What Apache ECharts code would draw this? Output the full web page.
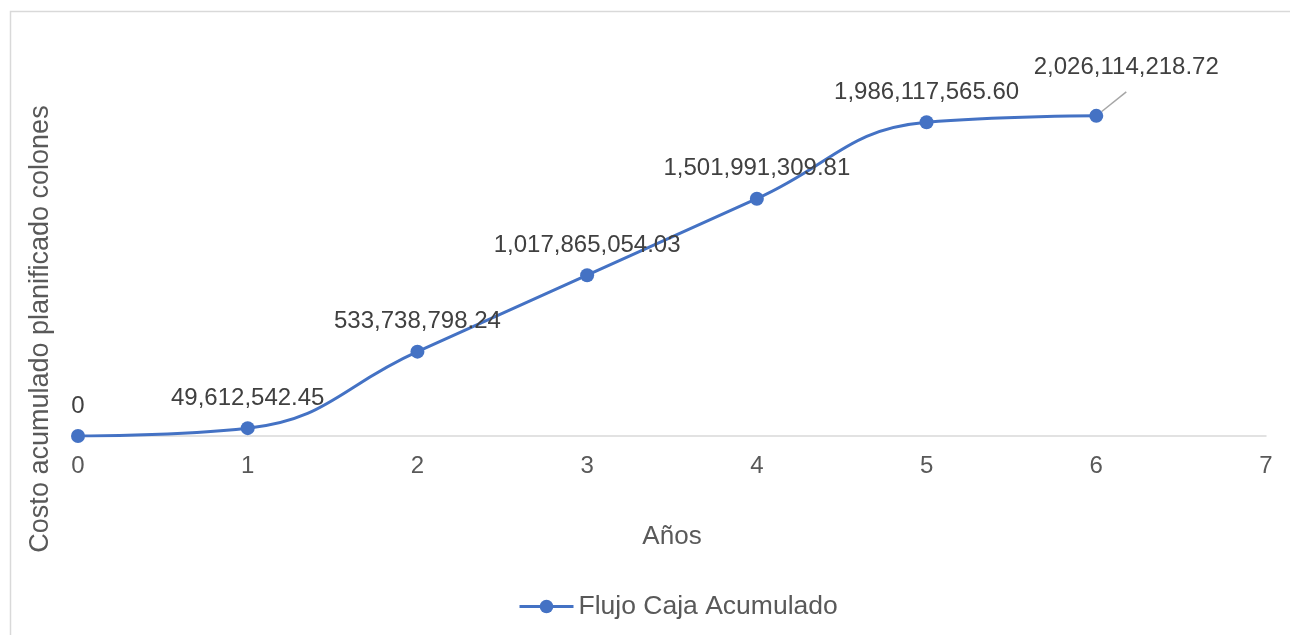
<!DOCTYPE html>
<html>
<head>
<meta charset="utf-8">
<script src="https://cdn.jsdelivr.net/npm/echarts@6/dist/echarts.min.js"></script>
<style>
  html, body { margin: 0; padding: 0; background: #ffffff; }
  #chart { width: 1290px; height: 635px; }
</style>
</head>
<body>
<div id="chart"></div>
<script>
// Años del proyecto y flujo de caja acumulado (colones)
const years = [0, 1, 2, 3, 4, 5, 6];
const cumulativeCost = [0, 49612542.45, 533738798.24, 1017865054.03, 1501991309.81, 1986117565.60, 2026114218.72];
const seriesName = 'Flujo Caja Acumulado';
const xTitle = 'Años';
const yTitle = 'Costo acumulado planificado colones';

const fmt = v => v === 0 ? '0' : v.toLocaleString('en-US', { minimumFractionDigits: 2, maximumFractionDigits: 2 });

const font = "Liberation Sans, Arial, sans-serif";
const lastIdx = cumulativeCost.length - 1;
const blue = '#4472C4';

const points = years.map((x, i) => {
  const item = { value: [x, cumulativeCost[i]] };
  if (i === lastIdx) {
    // último valor desplazado con línea guía
    item.label = { offset: [30, -18] };
    item.labelLine = { show: true, lineStyle: { color: '#a6a6a6', width: 1.5 } };
  }
  return item;
});

const chart = echarts.init(document.getElementById('chart'), null, { renderer: 'canvas' });
chart.setOption({
  animation: false,
  backgroundColor: '#ffffff',
  grid: { left: 78, right: 24, top: 41, bottom: 199 },
  xAxis: {
    type: 'value',
    min: 0, max: 7, interval: 1,
    name: xTitle,
    nameLocation: 'middle',
    nameGap: 88,
    nameTextStyle: { fontFamily: font, fontSize: 26, color: '#595959' },
    axisLine: { show: true, onZero: true, lineStyle: { color: '#d9d9d9', width: 1.5 } },
    axisTick: { show: false },
    splitLine: { show: false },
    axisLabel: { fontFamily: font, fontSize: 24, color: '#595959', margin: 18 }
  },
  yAxis: {
    type: 'value',
    min: 0, max: 2500000000,
    show: false,
    splitLine: { show: false }
  },
  legend: {
    bottom: 10,
    left: 513,
    itemWidth: 54,
    itemHeight: 17,
    itemGap: 10,
    itemStyle: { color: blue },
    lineStyle: { color: blue, width: 3 },
    textStyle: { fontFamily: font, fontSize: 26.5, color: '#595959' },
    data: [seriesName]
  },
  graphic: [
    {
      type: 'rect',
      shape: { x: 10.5, y: 11.5, width: 1300, height: 640 },
      style: { fill: 'none', stroke: '#d9d9d9', lineWidth: 1.5 },
      silent: true,
      z: -10
    },
    {
      type: 'text',
      x: 41, y: 329,
      rotation: Math.PI / 2,
      style: {
        text: yTitle,
        fontFamily: font, fontSize: 27, fill: '#595959',
        align: 'center', verticalAlign: 'middle'
      }
    }
  ],
  series: [{
    name: seriesName,
    type: 'line',
    smooth: 0.45,
    data: points,
    symbol: 'circle',
    symbolSize: 14,
    itemStyle: { color: blue },
    lineStyle: { color: blue, width: 3 },
    label: {
      show: true,
      position: 'top',
      distance: 11,
      fontFamily: font, fontSize: 24, color: '#404040',
      formatter: p => fmt(p.value[1])
    }
  }]
});
</script>
</body>
</html>
